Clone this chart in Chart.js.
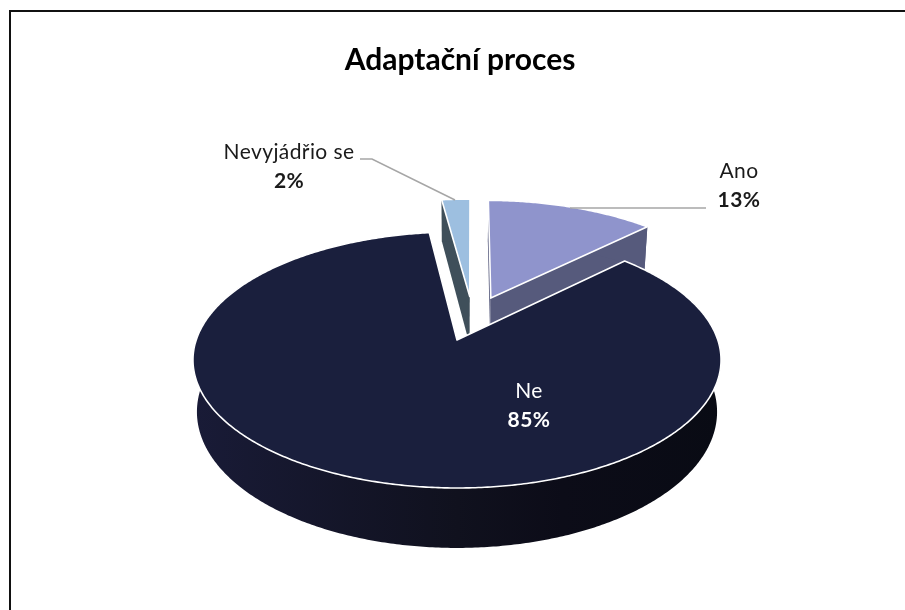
<!DOCTYPE html>
<html>
<head>
<meta charset="utf-8">
<title>Adaptační proces</title>
<script src="https://cdn.jsdelivr.net/npm/chart.js@4"></script>
<style>
    html, body { margin: 0; padding: 0; background: #fff; }
    #wrap { position: relative; width: 905px; height: 610px; overflow: hidden; }
    #frame { position: absolute; left: 9px; top: 10px; right: -5px; bottom: -5px; border-left: 2px solid #111; border-top: 2px solid #111; }
    canvas { position: absolute; left: 0; top: 0; }
</style>
</head>
<body>
<div id="wrap">
    <div id="frame"></div>
    <canvas id="pie" width="905" height="610"></canvas>
</div>
<script>
const categories = ["Ano", "Ne", "Nevyjádřio se"];
const shares = [12.5, 85.4, 2.1];
const topColors = ["#8f94cc", "#1a1f3d", "#9dbfe0"];
const sideColors = ["#565a7c", "#11121f", "#3f4f5a"];

// tilted view of the pie: the disc plane goes through a perspective
const view = { x: 457, y: 340, sx: 260.8, sy: 124.9, persp: 0.156, depth: 50.6, shrink: 0.985 };

// label spots, one per category, and the leader lines
const labelSpots = [
    { x: 739, y: 171, color: "#1a1a1a" },
    { x: 529, y: 391, color: "#ffffff" },
    { x: 289, y: 152, color: "#1a1a1a" }
];
const leaders = [
    [[570, 208], [706, 208]],
    null,
    [[360, 159], [372, 159], [455, 200]]
];

function sliceGeometry(chart, arc) {
    const p = arc.getProps(["startAngle", "endAngle", "outerRadius"], true);
    const mid = (p.startAngle + p.endAngle) / 2;
    const d = arc.options.offset / p.outerRadius;
    return { start: p.startAngle, end: p.endAngle, ox: Math.cos(mid) * d, oy: Math.sin(mid) * d };
}

function project(u, v, drop) {
    const w = 1 - view.persp * v;
    const sh = drop ? view.shrink : 1;
    return {
        x: view.x + view.sx * u * sh / w,
        y: view.y + view.sy * v / w + (drop ? view.depth / w : 0)
    };
}

function rimPoints(g, anchor, drop) {
    const pts = [];
    const steps = Math.max(4, Math.ceil((g.end - g.start) / 0.01));
    for (let i = 0; i <= steps; i++) {
        const a = g.start + (g.end - g.start) * i / steps;
        pts.push(project(g.ox + Math.cos(a) - anchor.ox, g.oy + Math.sin(a) - anchor.oy, drop));
    }
    return pts;
}

function fillPoly(ctx, pts, fill) {
    ctx.beginPath();
    pts.forEach((p, i) => i ? ctx.lineTo(p.x, p.y) : ctx.moveTo(p.x, p.y));
    ctx.closePath();
    ctx.fillStyle = fill;
    ctx.fill();
}

const tiltedPie = {
    id: "tiltedPie",
    beforeDatasetDraw(chart, args) {
        const ctx = chart.ctx;
        const arcs = args.meta.data;
        const anchor = sliceGeometry(chart, arcs[1]);

        ctx.save();
        [0, 2, 1].forEach(i => {
            const g = sliceGeometry(chart, arcs[i]);
            const top = rimPoints(g, anchor, false);
            const low = rimPoints(g, anchor, true);
            const apexTop = project(g.ox - anchor.ox, g.oy - anchor.oy, false);
            const apexLow = project(g.ox - anchor.ox, g.oy - anchor.oy, true);

            let side = sideColors[i];
            if (i === 1) {
                side = ctx.createLinearGradient(193, 0, 721, 0);
                side.addColorStop(0, "#191b37");
                side.addColorStop(0.5, "#10111e");
                side.addColorStop(0.7, "#0c0c18");
                side.addColorStop(1, "#090b14");
            }

            // radial cut faces, then the outer wall, then the top
            fillPoly(ctx, [apexTop, top[0], low[0], apexLow], sideColors[i]);
            fillPoly(ctx, [apexTop, top[top.length - 1], low[low.length - 1], apexLow], sideColors[i]);
            fillPoly(ctx, top.concat(low.slice().reverse()), side);

            const face = [apexTop].concat(top);
            fillPoly(ctx, face, topColors[i]);
            ctx.strokeStyle = "#ffffff";
            ctx.lineWidth = 1.6;
            ctx.lineJoin = "round";
            ctx.stroke();
        });
        ctx.restore();
        return false;
    },
    afterDatasetsDraw(chart) {
        const ctx = chart.ctx;
        const total = shares.reduce((a, b) => a + b, 0);

        ctx.save();
        ctx.strokeStyle = "#a6a6a6";
        ctx.lineWidth = 1.5;
        leaders.forEach(line => {
            if (!line) return;
            ctx.beginPath();
            line.forEach((p, i) => i ? ctx.lineTo(p[0], p[1]) : ctx.moveTo(p[0], p[1]));
            ctx.stroke();
        });

        ctx.textAlign = "center";
        ctx.textBaseline = "middle";
        ctx.letterSpacing = "0.4px";
        categories.forEach((name, i) => {
            const spot = labelSpots[i];
            ctx.fillStyle = spot.color;
            ctx.font = "21px Lato";
            ctx.fillText(name, spot.x, spot.y);
            ctx.font = "bold 21px Lato";
            ctx.fillText(Math.round(shares[i] / total * 100) + "%", spot.x, spot.y + 29);
        });
        ctx.restore();
    }
};

new Chart(document.getElementById("pie"), {
    type: "pie",
    data: {
        labels: categories,
        datasets: [{
            data: shares,
            backgroundColor: topColors,
            borderColor: "#ffffff",
            borderWidth: 1,
            offset: 38
        }]
    },
    options: {
        responsive: false,
        animation: false,
        radius: 200,
        rotation: 0.5,
        layout: { padding: { left: 15 } },
        plugins: {
            legend: { display: false },
            tooltip: { enabled: false },
            title: {
                display: true,
                text: "Adaptační proces",
                color: "#000",
                font: { family: "Lato", size: 30, weight: "bold" },
                padding: { top: 42, bottom: 10 }
            }
        }
    },
    plugins: [tiltedPie]
});
</script>
</body>
</html>
